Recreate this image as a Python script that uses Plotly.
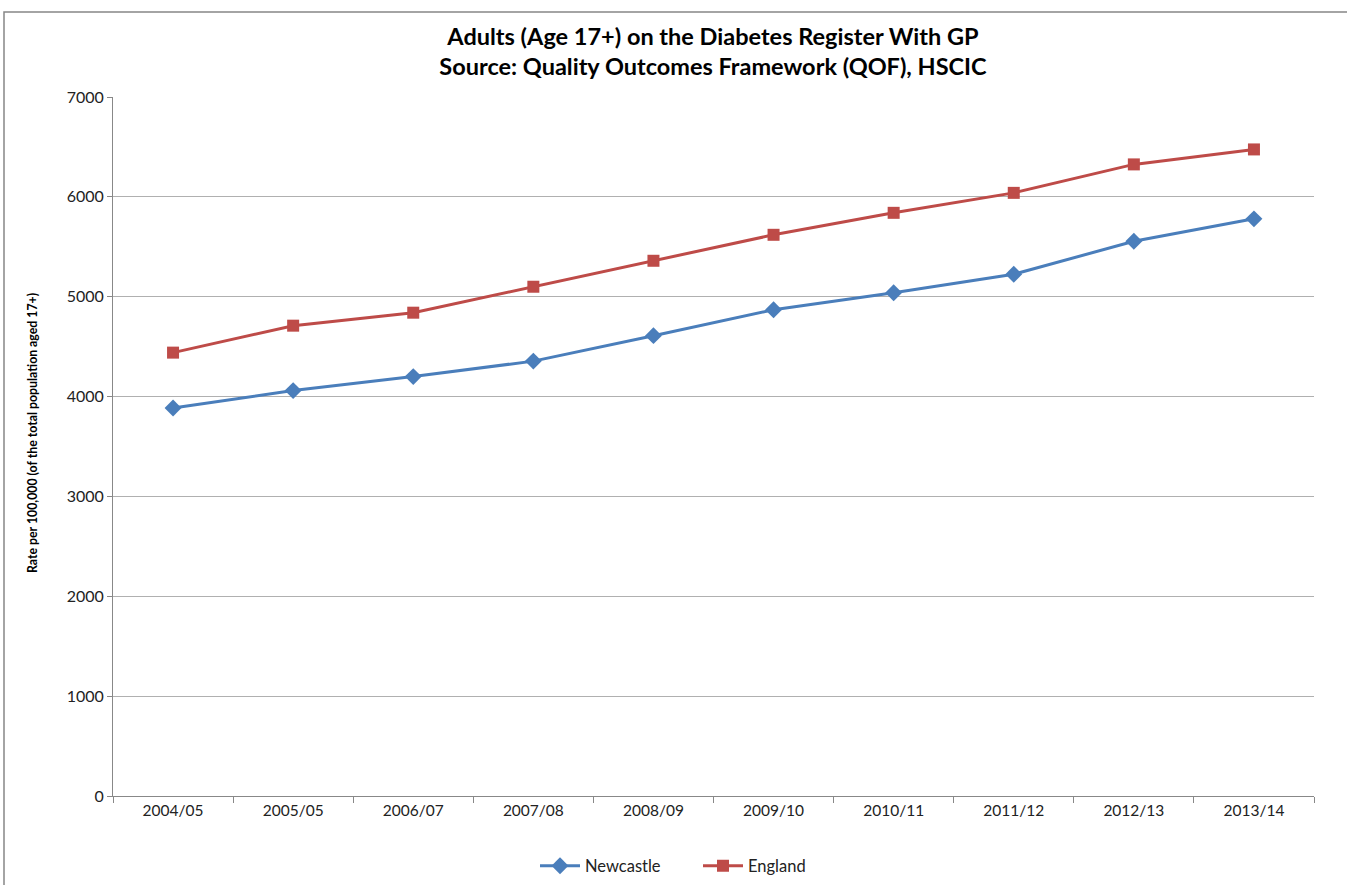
import plotly.graph_objects as go

categories = ["2004/05", "2005/05", "2006/07", "2007/08", "2008/09",
              "2009/10", "2010/11", "2011/12", "2012/13", "2013/14"]
newcastle = [3885, 4060, 4200, 4355, 4610, 4870, 5040, 5225, 5555, 5780]
england = [4440, 4710, 4840, 5100, 5360, 5620, 5840, 6040, 6325, 6475]

L, R, T, B = 113, 33, 97, 89
W, H = 1347, 885
pw, ph = W - L - R, H - T - B

fig = go.Figure()
fig.add_trace(go.Scatter(x=categories, y=newcastle, name="Newcastle", mode="lines+markers",
                         line=dict(color="#4A7EBB", width=3),
                         marker=dict(symbol="diamond", size=13, color="#4A7EBB")))
fig.add_trace(go.Scatter(x=categories, y=england, name="England", mode="lines+markers",
                         line=dict(color="#BE4B48", width=3),
                         marker=dict(symbol="square", size=12, color="#BE4B48")))

fig.update_layout(
    width=W, height=H,
    margin=dict(l=L, r=R, t=T, b=B),
    paper_bgcolor="white", plot_bgcolor="white",
    font=dict(family="Lato, Open Sans, sans-serif", color="#000000"),
    title=dict(text="<b>Adults (Age 17+) on the Diabetes Register With GP<br>Source: Quality Outcomes Framework (QOF), HSCIC</b>",
               x=713 / W, xanchor="center", y=1 - 44.5 / H, yanchor="middle",
               font=dict(size=23.5, family="Lato, sans-serif")),
    showlegend=True,
    legend=dict(orientation="h", x=535 / W, xanchor="left", xref="container",
                y=1 - 866 / H, yanchor="middle", yref="container",
                font=dict(size=16.5, color="#222222"), itemwidth=40,
                entrywidth=108, entrywidthmode="pixels"),
    xaxis=dict(type="category", range=[-0.5, 9.5], tickson="boundaries", ticks="outside", ticklen=6,
               tickcolor="#888888", showline=True, linecolor="#888888", linewidth=1,
               showgrid=False, tickfont=dict(size=15.5, color="#222222"), fixedrange=True,
               automargin=False),
    yaxis=dict(range=[0, 7000], dtick=1000, ticks="outside", ticklen=5, tickcolor="#888888",
               showline=True, linecolor="#888888", linewidth=1,
               showgrid=True, gridcolor="#b0b0b0", gridwidth=1,
               tickfont=dict(size=16, color="#222222"), zeroline=False, automargin=False),
)

fig.add_annotation(text="<b>Rate per 100,000 (of the total population aged 17+)</b>",
                   xref="paper", yref="paper", x=(32 - L) / pw, y=(T + ph - 433) / ph,
                   xanchor="center", yanchor="middle", textangle=-90, showarrow=False,
                   font=dict(size=12.3, color="#000000"))

fig.add_shape(type="rect", xref="paper", yref="paper",
              x0=(4 - L) / pw, x1=(W + 5 - L) / pw,
              y0=-(H + 5 - T - ph) / ph, y1=(T + ph - 12) / ph,
              line=dict(color="#868686", width=1.5), fillcolor="rgba(0,0,0,0)", layer="below")

fig.write_html("out.html")
